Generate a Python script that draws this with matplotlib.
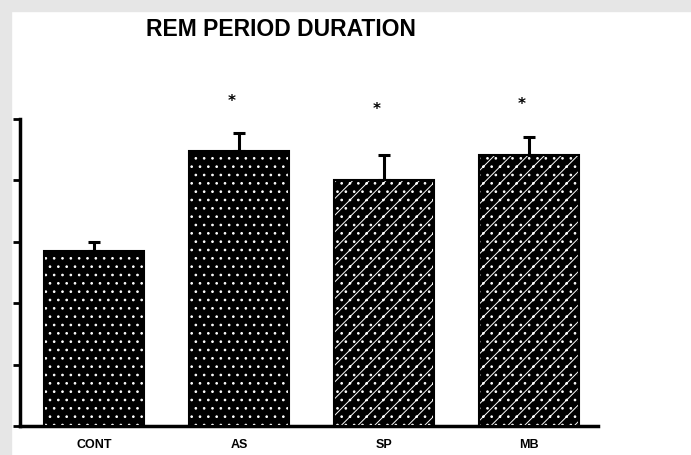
import numpy as np
import matplotlib.pyplot as plt
from matplotlib.patches import Rectangle

groups = ['CONT', 'AS', 'SP', 'MB']
means = [2.85, 4.48, 4.0, 4.41]
errs = [0.15, 0.29, 0.41, 0.30]
marks = ['', '*', '*', '*']
mark_y = [0, 5.28, 5.16, 5.23]
hatches = ['..', '..', '//..', '//..']

plt.rcParams['hatch.linewidth'] = 0.7

fig = plt.figure(figsize=(6.91, 4.55), dpi=100)
# grey scan border on top and left
fig.patches.append(Rectangle((0, 0), 11/691, 1, transform=fig.transFigure,
                             color='#e6e6e6', zorder=0))
fig.patches.append(Rectangle((0, 1-11/455), 1, 11/455, transform=fig.transFigure,
                             color='#e6e6e6', zorder=0))

ax = fig.add_axes([20/691, 29/455, 578/691, 307/455])
x = np.arange(len(groups))

ax.bar(x, means, width=0.69, color='black', edgecolor='black', linewidth=0, zorder=2)
for xi, m, h in zip(x, means, hatches):
    ax.bar(xi, m, width=0.69, color='none', edgecolor='white', linewidth=0,
           hatch=h, zorder=3)
ax.bar(x, means, width=0.69, color='none', edgecolor='black', linewidth=1.5, zorder=4)

ax.errorbar(x, means, yerr=[np.zeros(len(errs)), errs], fmt='none', ecolor='black',
            elinewidth=2.2, capsize=4, capthick=2.2, zorder=1)

for xi, s, my in zip(x, marks, mark_y):
    if s:
        ax.text(xi - 0.05, my, s, ha='center', va='center', fontsize=11,
                fontweight='bold', clip_on=False)

ax.set_xlim(-0.51, 3.476)
ax.set_ylim(0, 5)
ax.set_yticks(np.arange(0, 6))
ax.set_yticklabels([])
ax.set_xticks(x)
ax.set_xticklabels(groups, fontsize=9, fontweight='bold', family='Liberation Sans')
ax.tick_params(axis='x', length=0, pad=9)
ax.tick_params(axis='y', direction='out', length=5, width=2)

for s in ['top', 'right']:
    ax.spines[s].set_visible(False)
ax.spines['left'].set_linewidth(2.5)
ax.spines['bottom'].set_linewidth(2.5)

fig.text(281/691, 1 - 30/455, 'REM PERIOD DURATION', ha='center', va='center',
         fontsize=16.5, fontweight='bold', family='Liberation Sans')

fig.savefig('out.png', dpi=100)
